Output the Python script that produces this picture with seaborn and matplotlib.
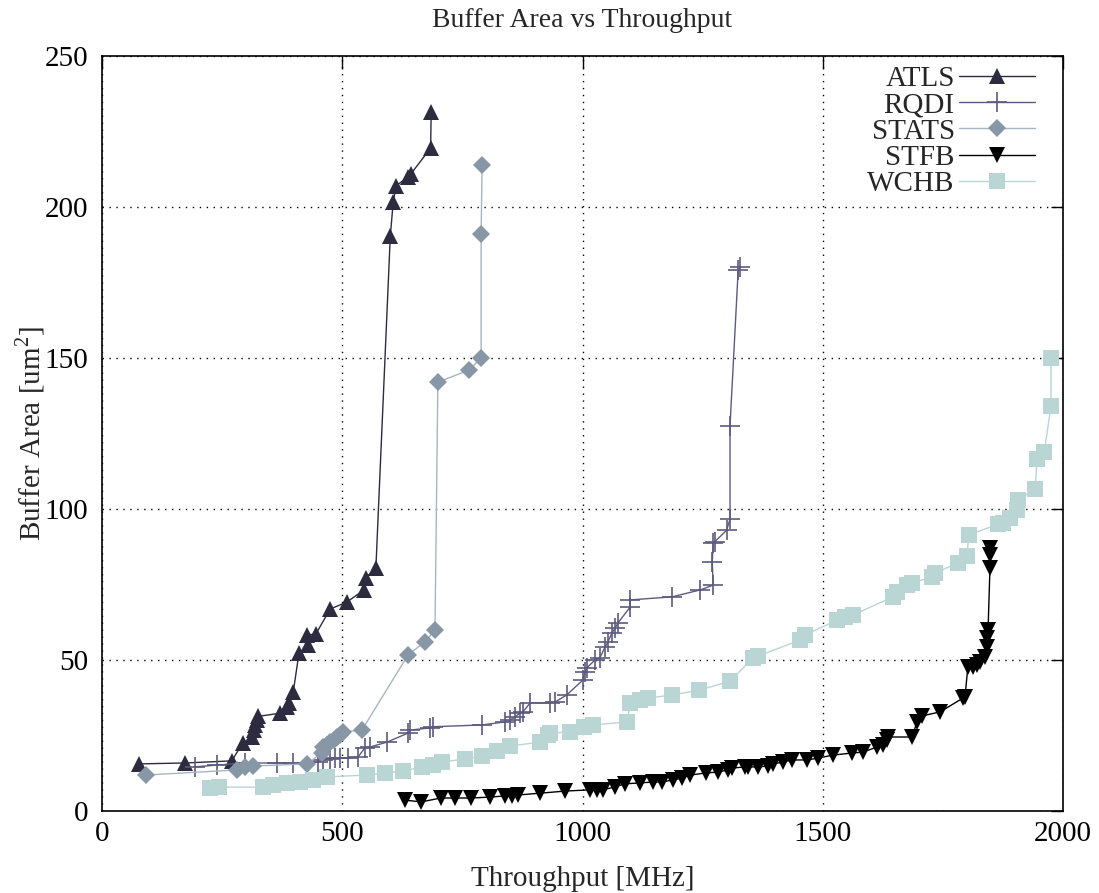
import matplotlib
matplotlib.use("Agg")
import matplotlib.pyplot as plt
import seaborn as sns
import pandas as pd

# Throughput [MHz] / buffer area [um^2] per buffer style
atls_x = [77, 173, 270, 293, 312, 316, 319, 322, 324, 371, 385, 390, 398, 410, 429, 427, 445,
          475, 510, 545, 549, 570, 600, 606, 612, 637, 643, 684, 685]
atls_y = [15.6, 15.9, 16.6, 22.5, 24.5, 26.8, 28.5, 30.1, 31.3, 32.4, 34.4, 35.8, 39.4, 52.3, 55.0,
          58.3, 58.6, 66.9, 69.2, 73.2, 77.2, 80.5, 190.4, 201.5, 207.0, 210.0, 211.0, 219.5, 231.5]

rqdi_x = [193, 239, 298, 364, 397, 450, 460, 475, 485, 495, 512, 533, 547, 558, 593, 637, 641,
          683, 689, 791, 839, 849, 859, 870, 876, 891, 932, 943, 967, 1001, 1005, 1009, 1026,
          1036, 1047, 1053, 1061, 1068, 1074, 1099, 1099, 1186, 1245, 1272, 1270, 1272, 1275,
          1300, 1307, 1307, 1324, 1328]
rqdi_y = [14.6, 15.2, 15.9, 15.9, 15.9, 16.2, 16.9, 17.2, 17.5, 17.5, 17.5, 17.9, 20.9, 21.2,
          22.8, 25.8, 26.8, 27.5, 27.9, 28.5, 29.5, 30.1, 31.1, 32.4, 32.8, 35.8, 35.8, 36.1,
          38.4, 43.4, 46.0, 47.4, 50.0, 50.7, 54.3, 56.0, 58.9, 60.6, 62.3, 67.5, 69.9, 70.9,
          73.2, 74.8, 82.4, 88.7, 89.1, 93.0, 96.7, 127.5, 179.1, 180.1]

stats_x = [91, 281, 298, 315, 427, 457, 460, 468, 475, 482, 489, 495, 502, 541, 637, 672, 693,
           699, 764, 789, 789, 791]
stats_y = [11.9, 13.6, 14.6, 14.9, 15.6, 19.2, 21.2, 22.0, 22.8, 23.6, 24.5, 25.3, 26.2, 26.8,
           51.7, 56.0, 59.9, 142.0, 146.0, 150.0, 191.0, 213.9]

stfb_x = [631, 664, 705, 735, 768, 807, 839, 853, 866, 912, 964, 1016, 1030, 1043, 1068, 1088,
          1120, 1147, 1165, 1189, 1207, 1224, 1257, 1282, 1303, 1311, 1338, 1345, 1365, 1386,
          1397, 1417, 1436, 1467, 1490, 1521, 1561, 1584, 1613, 1626, 1634, 1636, 1686, 1696,
          1707, 1744, 1792, 1796, 1802, 1813, 1821, 1827, 1838, 1842, 1842, 1844, 1848, 1848,
          1848]
stfb_y = [3.6, 3.0, 4.3, 4.3, 4.3, 4.6, 5.0, 5.0, 5.3, 5.9, 6.6, 7.0, 7.0, 7.0, 8.0, 9.0, 9.3,
          9.6, 9.6, 10.3, 10.9, 11.9, 12.6, 12.9, 13.6, 14.2, 14.6, 14.6, 14.6, 14.9, 15.6, 16.2,
          16.9, 16.9, 17.5, 18.5, 19.2, 19.5, 21.2, 21.8, 23.5, 24.5, 24.5, 29.5, 31.5, 32.8,
          37.4, 37.7, 47.7, 47.7, 48.3, 49.3, 51.0, 54.3, 57.3, 59.9, 80.5, 84.8, 87.1]

wchb_x = [225, 243, 335, 356, 385, 412, 439, 468, 551, 589, 627, 666, 689, 707, 755, 791, 822,
          849, 911, 928, 932, 974, 1003, 1022, 1093, 1099, 1120, 1136, 1186, 1243, 1307, 1355,
          1365, 1453, 1463, 1530, 1546, 1563, 1646, 1654, 1675, 1686, 1727, 1734, 1781, 1800,
          1804, 1865, 1875, 1890, 1904, 1906, 1942, 1946, 1961, 1975, 1975]
wchb_y = [7.6, 7.9, 7.9, 8.6, 9.3, 9.6, 10.3, 11.3, 11.9, 12.6, 13.2, 14.6, 15.2, 16.2, 17.2,
          18.2, 19.9, 21.5, 22.8, 25.2, 25.8, 26.2, 27.8, 28.5, 29.5, 35.8, 36.8, 37.4, 38.4,
          40.0, 43.0, 50.7, 51.3, 56.6, 58.3, 63.2, 64.2, 64.9, 70.9, 72.5, 74.8, 75.5, 77.5,
          78.8, 82.1, 84.4, 91.4, 95.0, 95.4, 97.0, 99.7, 103.0, 106.6, 116.6, 118.9, 134.1,
          150.0]

series_names = ["ATLS", "RQDI", "STATS", "STFB", "WCHB"]
series_data = {
    "ATLS": (atls_x, atls_y),
    "RQDI": (rqdi_x, rqdi_y),
    "STATS": (stats_x, stats_y),
    "STFB": (stfb_x, stfb_y),
    "WCHB": (wchb_x, wchb_y),
}

# marker, marker colour, line colour, marker size, marker edge width
styles = {
    "ATLS":  dict(marker="^", mc="#2c2b3f", lc="#2c2b3f", ms=12, mew=0.0),
    "RQDI":  dict(marker="+", mc="#5b5b7e", lc="#5b5b7e", ms=15, mew=1.2),
    "STATS": dict(marker="D", mc="#8797a5", lc="#a6b6c1", ms=9, mew=0.0),
    "STFB":  dict(marker="v", mc="#000000", lc="#000000", ms=12, mew=0.0),
    "WCHB":  dict(marker="s", mc="#b9d5d4", lc="#b9d5d4", ms=11.5, mew=0.0),
}

sns.set_style("white")
plt.rcParams["font.family"] = ["Liberation Serif", "DejaVu Serif"]
plt.rcParams["mathtext.fontset"] = "custom"
plt.rcParams["mathtext.rm"] = "Liberation Serif"

fig = plt.figure(figsize=(10.99, 8.93), dpi=100)
ax = fig.add_axes([102 / 1099, 82 / 893, (1063 - 102) / 1099, (811 - 56) / 893])

for name in series_names:
    xs, ys = series_data[name]
    st = styles[name]
    df = pd.DataFrame({"x": xs, "y": ys})
    sns.lineplot(data=df, x="x", y="y", ax=ax, sort=False, estimator=None,
                 color=st["lc"], linewidth=1.0, marker=st["marker"],
                 markersize=st["ms"], markerfacecolor=st["mc"],
                 markeredgecolor=st["mc"], markeredgewidth=st["mew"],
                 label=name)

ax.set_xlim(0, 2000)
ax.set_ylim(0, 250)
ax.set_xticks([0, 500, 1000, 1500, 2000])
ax.set_yticks([0, 50, 100, 150, 200, 250])
ax.grid(True, color="black", linestyle=(0, (1, 4)), linewidth=1.0)
ax.set_axisbelow(True)
for sp in ax.spines.values():
    sp.set_color("black")
    sp.set_linewidth(1.2)
ax.tick_params(direction="in", length=9, width=1.0, top=True, right=True,
               labelsize=21, colors="black")
ax.tick_params(axis="y", pad=10)
ax.tick_params(axis="x", pad=7)

ax.set_xlabel("Throughput [MHz]", fontsize=21, labelpad=14)
ax.set_ylabel(r"Buffer Area [um$^{\mathregular{2}}$]", fontsize=21, labelpad=-2)
ax.set_title("Buffer Area vs Throughput", fontsize=20, pad=21)

ax.legend(loc="upper right", frameon=False, markerfirst=False, fontsize=21,
          handlelength=2.6, labelspacing=0.0, handletextpad=0.15,
          borderaxespad=0.0, bbox_to_anchor=(0.983, 1.003))

fig.savefig("out.png", dpi=100)
